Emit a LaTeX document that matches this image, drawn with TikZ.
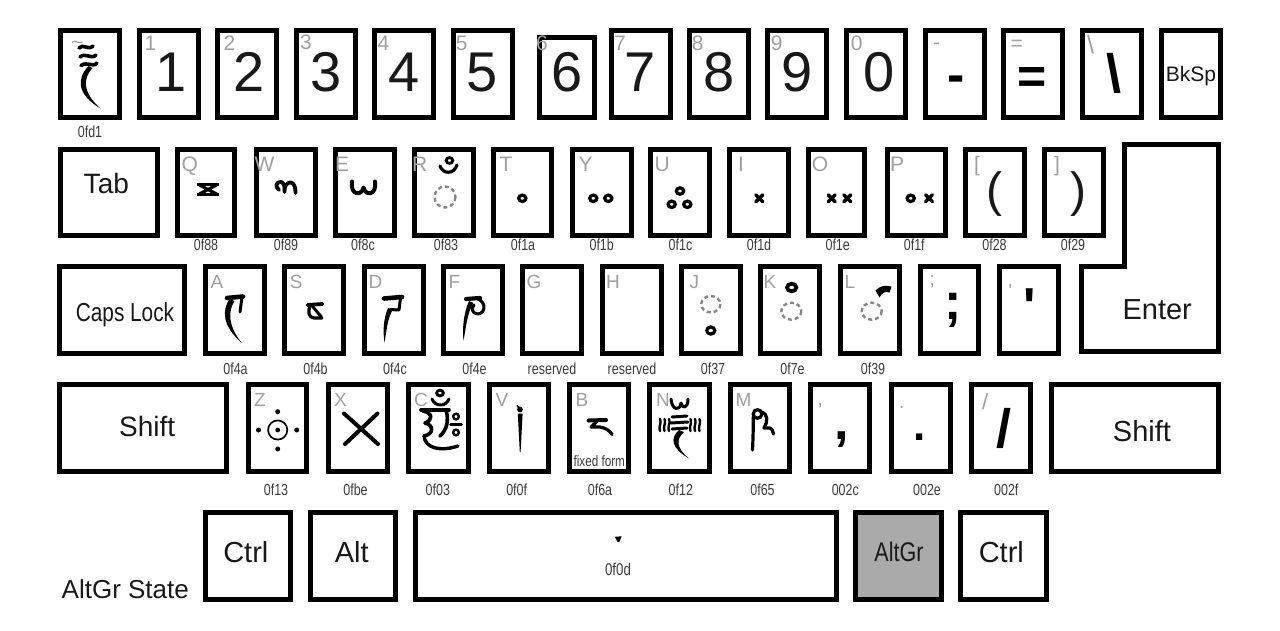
\documentclass[tikz,border=0pt]{standalone}
\usepackage{graphicx}
\usepackage{fontspec}
\setmainfont{Liberation Sans}
\newfontfamily\narrowfont[FakeStretch=0.78]{Liberation Sans}
\usetikzlibrary{fit}
\definecolor{lblgray}{RGB}{160,160,160}
\definecolor{codegray}{RGB}{60,60,60}
\definecolor{dashgray}{RGB}{135,135,135}
\definecolor{altgrfill}{RGB}{170,170,170}
\definecolor{inkc}{RGB}{25,25,25}
\tikzset{
 keybox/.style={draw=black,line width=5pt,inner sep=0pt},
 lg/.style={anchor=base,inner sep=0pt,text=inkc,font=\fontsize{56}{60}\selectfont},
 lgb/.style={anchor=base,inner sep=0pt,text=black,font=\bfseries\fontsize{#1}{#1}\selectfont},
 kname/.style={anchor=base,inner sep=0pt,text=inkc,font=\fontsize{#1}{#1}\selectfont},
 glbl/.style={anchor=base west,inner sep=0pt,text=lblgray,font=\fontsize{#1}{#1}\selectfont},
 code/.style={anchor=base,inner sep=0pt,text=codegray,font=\narrowfont\fontsize{#1}{#1}\selectfont},
 tb/.style={draw=black,line cap=round,line join=round,line width=#1},
 rng/.style={draw=black,line width=3.2pt},
 dsh/.style={draw=dashgray,line width=2.4pt,dash pattern=on 4pt off 3pt},
}
\newcommand\kb[6][]{%
 \coordinate (#2a) at ({#3+2.5},{#4+2.5});
 \coordinate (#2b) at ({#5-2.5},{#6-2.5});
 \node[keybox,fit=(#2a)(#2b),#1] (#2) {};}
\newcommand\tx[2]{\draw[tb=3.4pt] ({#1-3.4},{#2-3.4}) -- ({#1+3.4},{#2+3.4}) ({#1+3.4},{#2-3.4}) -- ({#1-3.4},{#2+3.4});}
\newcommand\tr[2]{\draw[rng] (#1,#2) ellipse [x radius=3.6,y radius=3.2];}
\begin{document}
\begin{tikzpicture}[x=1pt,y=-1pt]
\fill[white] (0,0) rectangle (1280,630);
\useasboundingbox (0,0) rectangle (1280,630);
% ---------- row 1
\kb{kt}{57.5}{28.3}{121.5}{119.7}
\kb{ka1}{136.5}{28.3}{200.5}{119.7}
\kb{ka2}{215}{28.3}{279}{119.7}
\kb{ka3}{293.5}{28.3}{357.5}{119.7}
\kb{ka4}{372}{28.3}{436}{119.7}
\kb{ka5}{450.5}{28.3}{514.5}{119.7}
\kb{ka6}{536.5}{35}{596.5}{119.7}
\kb{ka7}{608.5}{28.3}{672.5}{119.7}
\kb{ka8}{687}{28.3}{751}{119.7}
\kb{ka9}{765}{28.3}{829}{119.7}
\kb{ka0}{843.5}{28.3}{907.5}{119.7}
\kb{kmin}{922.5}{28.3}{986.5}{119.7}
\kb{keq}{1001}{28.3}{1065}{119.7}
\kb{kbsl}{1079.5}{28.3}{1143.5}{119.7}
\kb{kbk}{1158.5}{28.3}{1222.5}{119.7}
% ---------- row 2
\kb{ktab}{58.3}{146.7}{160}{238.3}
\kb{kq}{175}{146.7}{237}{238.3}
\kb{kw}{254}{146.7}{317.5}{238.3}
\kb{ke}{332.7}{146.7}{396.7}{238.3}
\kb{kr}{411.7}{146.7}{475.7}{238.3}
\kb{ktt}{490.7}{146.7}{554.2}{238.3}
\kb{ky}{570}{146.7}{633.5}{238.3}
\kb{ku}{648.3}{146.7}{711.8}{238.3}
\kb{ki}{727.3}{146.7}{790.8}{238.3}
\kb{ko}{806}{146.7}{867}{238.3}
\kb{kp}{885}{146.7}{948.3}{238.3}
\kb{klb}{963.3}{146.7}{1026.7}{238.3}
\kb{krb}{1042.3}{146.7}{1106}{238.3}
\draw[line width=5pt,line join=miter] (1124.2,144.2) -- (1218.2,144.2) -- (1218.2,351.5) -- (1081.8,351.5) -- (1081.8,266) -- (1124.2,266) -- cycle;
% ---------- row 3
\kb{kcaps}{57.3}{264}{187.3}{356}
\kb{kaa}{202.7}{264}{266.7}{356}
\kb{ks}{282.3}{264}{346}{356}
\kb{kd}{361.7}{264}{425.7}{356}
\kb{kf}{440.7}{264}{505}{356}
\kb{kg}{520}{264}{584}{356}
\kb{kh}{600}{264}{664}{356}
\kb{kj}{679.3}{264}{743.3}{356}
\kb{kk}{758.3}{264}{822.3}{356}
\kb{kl}{838.3}{264}{901.7}{356}
\kb{ksc}{917.7}{264}{981}{356}
\kb{kap}{996.7}{264}{1060.7}{356}
% ---------- row 4
\kb{kshl}{57.3}{382.3}{229.3}{474}
\kb{kz}{245.7}{382.3}{309.3}{474}
\kb{kx}{325.7}{382.3}{390}{474}
\kb{kc}{406}{382.3}{470.7}{474}
\kb{kv}{486.7}{382.3}{551}{474}
\kb{kbb}{567.3}{382.3}{631.3}{474}
\kb{kn}{647.3}{382.3}{711.7}{474}
\kb{km}{728.3}{382.3}{792.3}{474}
\kb{kcom}{808.3}{382.3}{872.3}{474}
\kb{kdot}{889}{382.3}{952.7}{474}
\kb{ksl}{969.3}{382.3}{1033.3}{474}
\kb{kshr}{1049.3}{382.3}{1221}{474}
% ---------- row 5
\kb{kctl}{202.7}{510}{293.3}{601.7}
\kb{kalt}{308.3}{510}{398.3}{601.7}
\kb{kspc}{412.7}{510}{839.3}{601.7}
\kb[fill=altgrfill]{kag}{853.3}{510}{944}{601.7}
\kb{kctr}{958.3}{510}{1049.3}{601.7}

% ---------- row 1 texts
\node[glbl=21] (g-t) at (71,49) {\textasciitilde};
\node[glbl=21] (g-1) at (144.5,50.3) {1};
\node[glbl=21] (g-2) at (223.5,50.3) {2};
\node[glbl=21] (g-3) at (300,49.8) {3};
\node[glbl=21] (g-4) at (377.3,50.3) {4};
\node[glbl=21] (g-5) at (455.7,50.3) {5};
\node[glbl=21] (g-6) at (536,50.3) {6};
\node[glbl=21] (g-7) at (614,50.3) {7};
\node[glbl=21] (g-8) at (691.7,50.3) {8};
\node[glbl=21] (g-9) at (770.7,50.3) {9};
\node[glbl=21] (g-0) at (850.7,50.3) {0};
\node[glbl=21] (g-m) at (933,49) {-};
\node[glbl=21] (g-e) at (1010.5,50.6) {=};
\node[glbl=25] (g-b) at (1087,53.3) {\textbackslash};
\node[lg] (l-1) at (171,91.7) {1};
\node[lg] (l-2) at (248.8,91.7) {2};
\node[lg] (l-3) at (326.3,91.7) {3};
\node[lg] (l-4) at (404.4,91.7) {4};
\node[lg] (l-5) at (482.5,91.7) {5};
\node[lg] (l-6) at (567,91.7) {6};
\node[lg] (l-7) at (640.1,91.7) {7};
\node[lg] (l-8) at (719.2,91.7) {8};
\node[lg] (l-9) at (797.5,91.7) {9};
\node[lg] (l-0) at (878.8,91.7) {0};
\node[lgb=52] (l-m) at (956,92) {-};
\node[lgb=50] (l-e) at (1032,93) {=};
\node[lgb=54] (l-b) at (1114,92.7) {\textbackslash};
\node[kname=21] (l-bk) at (1191,81.7) {BkSp};
\node[code=16] (c-t) at (90,137) {0fd1};
% tilde glyph 0fd1
\draw[tb=3.6pt] (79,48) .. controls (83,43) and (88,51) .. (93,46);
\draw[tb=3.6pt] (80,57) .. controls (86,52) and (91,60) .. (96,55);
\draw[tb=3.6pt] (81,65.5) .. controls (88,61) and (92,68) .. (97,63);
\fill[black] (88.5,66) .. controls (77,78) and (76,94) .. (100.5,108.5) .. controls (82,92) and (83,78) .. (92.5,68) -- cycle;

% ---------- row 2 texts
\node[kname=28] (l-tab) at (106.3,193.3) {Tab};
\node[glbl=21] (g-q) at (181.5,171.7) {Q};
\node[glbl=21] (g-w) at (254.5,171.7) {W};
\node[glbl=21] (g-ee) at (335,171.7) {E};
\node[glbl=21] (g-r) at (411.8,171.7) {R};
\node[glbl=21] (g-tt) at (499.5,171.7) {T};
\node[glbl=21] (g-y) at (578.3,171.7) {Y};
\node[glbl=21] (g-u) at (654.3,171.7) {U};
\node[glbl=21] (g-i) at (738,171.7) {I};
\node[glbl=21] (g-o) at (811.7,171.7) {O};
\node[glbl=21] (g-p) at (890,171.7) {P};
\node[glbl=21] (g-lb) at (973.8,171.7) {[};
\node[glbl=21] (g-rb) at (1053.8,171.7) {]};
\node[kname=48] (l-lb) at (994,206.6) {(};
\node[kname=48] (l-rb) at (1078,206.6) {)};
\node[code=16] (c-q) at (206,250) {0f88};
\node[code=16] (c-w) at (286,250) {0f89};
\node[code=16] (c-e) at (363,250) {0f8c};
\node[code=16] (c-r) at (446,250) {0f83};
\node[code=16] (c-tt) at (523,250) {0f1a};
\node[code=16] (c-y) at (601.7,250) {0f1b};
\node[code=16] (c-u) at (680.5,250) {0f1c};
\node[code=16] (c-i) at (759,250) {0f1d};
\node[code=16] (c-o) at (837.7,250) {0f1e};
\node[code=16] (c-p) at (914.3,250) {0f1f};
\node[code=16] (c-lb) at (994.5,250) {0f28};
\node[code=16] (c-rb) at (1073,250) {0f29};
% Q 0f88
\draw[black,line width=3.4pt] (197,184.4) -- (219,184.4) (197,194.6) -- (219,194.6);
\draw[black,line width=3.2pt] (199.5,185) -- (216.5,194) (216.5,185) -- (199.5,194);
% W 0f89
\draw[tb=3.8pt] (279,190) .. controls (274,186) and (277,181.5) .. (281,182) .. controls (284.5,182.5) and (285,188) .. (284.5,192);
\draw[tb=3.8pt] (284.5,188) .. controls (287.5,179.5) and (296,180.5) .. (295.5,193);
% E 0f8c
\draw[tb=4pt] (352,181.5) .. controls (350,196) and (362,196) .. (363.5,187.5) .. controls (365,196) and (377,196) .. (375,181.5);
% R 0f83
\draw[rng,line width=2.8pt] (449.5,160.5) ellipse [x radius=3.4,y radius=2.9];
\draw[tb=3.2pt] (440,166) .. controls (443,174.5) and (454,174.5) .. (457,165);
\draw[dsh] (445,197) ellipse [x radius=10.5,y radius=10.5];
% T Y U
\tr{522.3}{198.3}
\tr{593.3}{198.3} \tr{608.3}{198.3}
\tr{680}{191} \tr{671.7}{204.3} \tr{687.3}{204.3}
% I O P
\tx{759.3}{198.3}
\tx{831.7}{198.3} \tx{847.3}{198.3}
\tr{910.7}{198.3} \tx{929}{198.3}

% ---------- row 3 texts
\node[kname=26] (l-caps) at (125,321.7) {\scalebox{0.8}[1]{Caps Lock}};
\node[kname=29] (l-ent) at (1157.2,319.3) {Enter};
\node[glbl=19] (g-a) at (210.5,288.3) {A};
\node[glbl=19] (g-s) at (289.7,288.3) {S};
\node[glbl=19] (g-d) at (368.5,288.3) {D};
\node[glbl=19] (g-f) at (448.5,288.3) {F};
\node[glbl=19] (g-g) at (526.3,288.3) {G};
\node[glbl=19] (g-h) at (605.8,288.3) {H};
\node[glbl=19] (g-j) at (689.5,288.3) {J};
\node[glbl=19] (g-k) at (763.5,288.3) {K};
\node[glbl=19] (g-l) at (844.5,288.3) {L};
\node[glbl=19] (g-sc) at (929.5,285) {;};
\node[glbl=19] (g-ap) at (1008.5,297) {\textquotesingle};
\node[lgb=52] (l-sc) at (953,319.5) {;};
\node[lgb=52] (l-ap) at (1030,324) {\textquotesingle};
\node[code=16] (c-a) at (235.5,374) {0f4a};
\node[code=16] (c-s) at (315.5,374) {0f4b};
\node[code=16] (c-d) at (395,374) {0f4c};
\node[code=16] (c-f) at (474.5,374) {0f4e};
\node[code=16] (c-g) at (552,374) {reserved};
\node[code=16] (c-h) at (632,374) {reserved};
\node[code=16] (c-j) at (713,374) {0f37};
\node[code=16] (c-k) at (792.5,374) {0f7e};
\node[code=16] (c-l) at (873,374) {0f39};
% A 0f4a
\draw[tb=4.6pt] (227,298) -- (243,296.5);
\draw[tb=3pt] (242,297) -- (240,312);
\fill[black] (229.5,299) .. controls (222,310) and (222,326) .. (241.5,342.5) .. controls (228,326) and (228,311) .. (234.5,301) -- cycle;
% S 0f4b
\draw[tb=3.8pt] (307.5,305) -- (322.5,304);
\draw[tb=3.2pt] (310.5,305.5) .. controls (307,311) and (309,318) .. (314,318) -- (322,318);
\draw[tb=3pt] (313,307) -- (321.5,317);
% D 0f4c
\draw[tb=4.6pt] (384,298.5) -- (402,297);
\draw[tb=3pt] (400.5,298) -- (399,310) -- (390,309.5);
\fill[black] (388,308) .. controls (383,320) and (383,332) .. (384.5,342.5) .. controls (386.5,332) and (387,320) .. (392.5,310) -- cycle;
% F 0f4e
\draw[tb=4.2pt] (466,299) -- (480,298);
\draw[tb=3pt] (478,299) .. controls (486,302) and (486,313) .. (478,314) .. controls (472,314) and (471,308) .. (474,305);
\fill[black] (469,301) .. controls (464,312) and (462,328) .. (463.5,340.5) .. controls (466,328) and (467,313) .. (473.5,303) -- cycle;
% J 0f37
\draw[dsh] (710.8,304.2) ellipse [x radius=9.6,y radius=8.2];
\draw[rng] (710.8,330.5) ellipse [x radius=4,y radius=3.6];
% K 0f7e
\draw[rng,line width=3.8pt] (791.7,287.5) ellipse [x radius=4.6,y radius=3.8];
\draw[dsh] (791.3,311.2) ellipse [x radius=10,y radius=8.5];
% L 0f39
\fill[black] (875.5,290.5) .. controls (880,285.5) and (886,285) .. (891.5,286.5) -- (889.5,292.5) .. controls (885,291) and (882,292.5) .. (879.5,297.5) -- cycle;
\draw[dsh] (871.7,311.2) ellipse [x radius=10,y radius=8.5];

% ---------- row 4 texts
\node[kname=28] (l-shl) at (147.2,436.7) {Shift};
\node[kname=29] (l-shr) at (1142,441.7) {Shift};
\node[glbl=19] (g-z) at (254,406.7) {Z};
\node[glbl=19] (g-x) at (334,406.7) {X};
\node[glbl=19] (g-c) at (414,406.7) {C};
\node[glbl=19] (g-v) at (495.5,406.7) {V};
\node[glbl=19] (g-bb) at (575.5,406.7) {B};
\node[glbl=19] (g-n) at (656,406.7) {N};
\node[glbl=19] (g-mm) at (735.5,406.7) {M};
\node[glbl=19] (g-com) at (817.5,405) {,};
\node[glbl=19] (g-dot) at (899,408) {.};
\node[glbl=22] (g-sl) at (982,409.5) {/};
\node[lgb=52] (l-com) at (841.7,439.3) {,};
\node[lgb=44] (l-dot) at (919.7,440.7) {.};
\node[lgb=54] (l-sl) at (1004,447) {/};
\node[code=16] (c-z) at (276,495) {0f13};
\node[code=16] (c-x) at (355.5,495) {0fbe};
\node[code=16] (c-c) at (437.8,495) {0f03};
\node[code=16] (c-v) at (516.7,495) {0f0f};
\node[code=16] (c-bb) at (600,495) {0f6a};
\node[code=16] (c-n) at (680.8,495) {0f12};
\node[code=16] (c-mm) at (762.5,495) {0f65};
\node[code=16] (c-com) at (845.3,495) {002c};
\node[code=16] (c-dot) at (927,495) {002e};
\node[code=16] (c-sl) at (1006.3,495) {002f};
\node[code=15] (c-fix) at (599.3,466) {fixed form};
% Z 0f13
\draw[black,line width=1.7pt] (277.7,430) circle [radius=9.6];
\fill[black] (277.7,430) circle [radius=2.4] (258.5,430) circle [radius=2.5] (296.7,430) circle [radius=2.5] (277.7,411.7) circle [radius=2.5] (277.7,449) circle [radius=2.5];
% X 0fbe
\draw[tb=4pt] (344,413.5) -- (378,444) (377.5,413.5) -- (345,444);
% C 0f03
\draw[rng,line width=2.8pt] (440,393) ellipse [x radius=3.4,y radius=2.9];
\draw[tb=3pt] (432,399) .. controls (435,407) and (446,407) .. (449,399);
\draw[tb=3.6pt] (421,410) -- (449,410);
\draw[tb=3.6pt] (423,411) .. controls (433,413) and (433,420) .. (425,423) .. controls (434,425) and (434,434) .. (424,436);
\draw[tb=3.6pt] (446,410) .. controls (449,420) and (447,430) .. (440,436);
\draw[tb=3.4pt] (424,436) .. controls (425,448) and (440,452) .. (458,446);
\draw[black,line width=2.4pt] (456,416.5) circle [radius=2.8] (456,432.5) circle [radius=2.8];
\draw[tb=2.6pt] (450.5,424.5) -- (461.5,424.5);
% V 0f0f
\fill[black] (520,409.5) circle [radius=2.9];
\draw[tb=1.8pt] (517.2,405.8) -- (520,408.5);
\fill[black] (517.8,413.5) -- (522.6,413.5) -- (520.6,452) -- (519.8,452) -- cycle;
% B 0f6a
\draw[tb=4pt] (588.5,420.5) -- (606,420);
\draw[tb=3.2pt] (597,421.5) -- (591,427) -- (600,427) .. controls (606,428) and (610,431) .. (612,434.5);
% N 0f12
\draw[tb=3pt] (671,399) .. controls (672,411) and (680,411) .. (681,403) .. controls (682,409) and (688,409) .. (688,399);
\draw[tb=3pt] (672,417) -- (687,416) (671,423) -- (688,422) (672,429) -- (687,428);
\foreach \sx in {660,664.5,669,690.5,695,699.5}{
 \draw[tb=2.4pt] (\sx,419) .. controls ({\sx+2},423) and ({\sx-2},427) .. (\sx,431);}
\fill[black] (679,430) .. controls (670,438) and (671,448) .. (689,458.5) .. controls (676,448) and (676,439) .. (684,432) -- cycle;
% M 0f65
\draw[rng] (757.5,414) ellipse [x radius=4.3,y radius=4.3];
\draw[tb=3.2pt] (753.3,417) .. controls (753.3,430) and (753,440) .. (752.5,450);
\draw[tb=3.2pt] (762,412) .. controls (768,414) and (768,422) .. (764,428) -- (770,428) .. controls (772,429) and (773,431) .. (773.5,434);

% ---------- row 5 texts
\node[kname=29] (l-ctl) at (245.8,562.7) {Ctrl};
\node[kname=29] (l-alt) at (351.8,562.7) {Alt};
\node[kname=27] (l-ag) at (899,561.7) {\scalebox{0.8}[1]{AltGr}};
\node[kname=29] (l-ctr) at (1001.3,562.7) {Ctrl};
\node[kname=26,anchor=base west] (l-state) at (61.5,598.3) {AltGr State};
\node[code=17] (c-spc) at (618,575) {0f0d};
\fill[black] (614.8,536.8) -- (621.8,536.3) -- (619.2,542) -- (617.6,542) -- cycle;
\end{tikzpicture}
\end{document}
